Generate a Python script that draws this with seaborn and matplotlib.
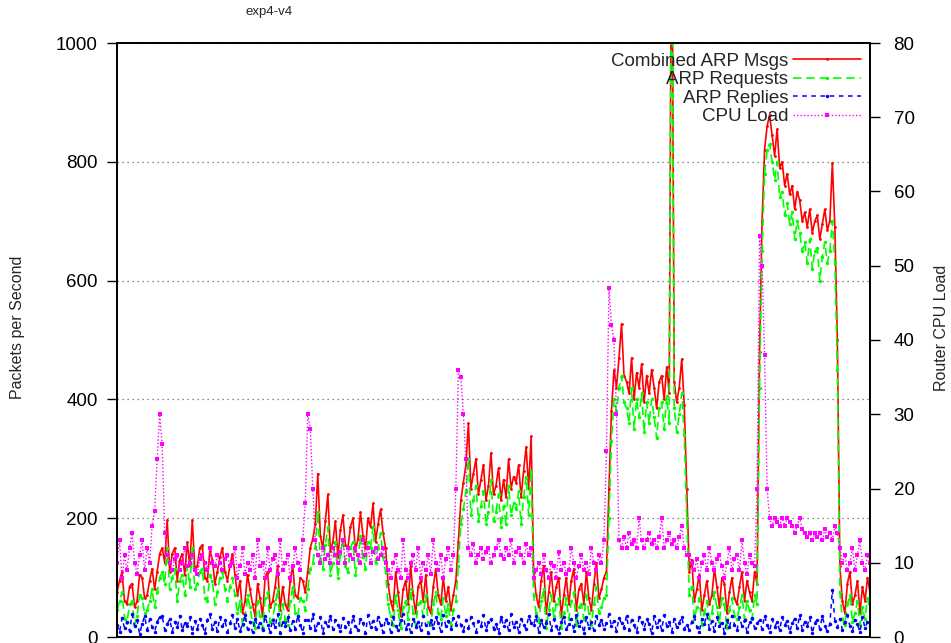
# exp4-v4 : ARP traffic vs router CPU load (gnuplot style look)

import pandas as pd
import matplotlib
matplotlib.use("Agg")
import matplotlib.pyplot as plt
import seaborn as sns

sns.set_style("ticks")
plt.rcParams['font.family'] = ['Liberation Sans', 'DejaVu Sans']

# ==========================
# Data (one sample every couple of seconds)
# ==========================

combined = [
    75, 95, 110, 60, 55, 85, 90, 50, 60, 105, 100, 65, 70, 95, 115, 80, 110, 140,
    150, 125, 197, 110, 140, 150, 95, 130, 140, 105, 160, 120, 197, 115, 120, 150,
    155, 100, 95, 145, 130, 90, 110, 135, 150, 110, 95, 120, 140, 105,
    70, 95, 40, 60, 105, 80, 55, 35, 90, 65, 35, 100, 110, 50, 60, 85, 120, 45,
    85, 55, 45, 95, 120, 70, 65, 100, 95, 75,
    110, 150, 165, 190, 275, 170, 150, 195, 240, 145, 160, 195, 135, 180, 205, 155,
    150, 185, 200, 145, 165, 210, 170, 150, 200, 185, 225, 160, 190, 215, 175, 150,
    90, 60, 45, 110, 75, 35, 80, 95, 55, 120, 70, 40, 85, 95, 60, 105, 50, 40,
    85, 115, 70, 55, 100, 60, 85, 45, 70, 95,
    160, 230, 260, 290, 360, 250, 275, 300, 240, 265, 290, 230, 255, 310, 240,
    255, 285, 230, 265, 235, 300, 250, 270, 260, 290, 235, 280, 320, 250, 338,
    110, 70, 50, 95, 120, 40, 75, 110, 60, 85, 100, 35, 70, 100, 55, 95, 115, 45,
    80, 90, 55, 110, 65, 45, 90, 125, 65, 80, 100, 110,
    250, 380, 450, 420, 470, 527, 440, 430, 410, 470, 400, 445, 420, 460, 395, 440,
    410, 450, 420, 385, 430, 440, 400, 455, 410, 1300, 430, 395, 420, 468, 390, 250,
    110, 130, 60, 80, 105, 45, 70, 95, 55, 70, 115, 85, 50, 100, 90, 40, 75, 100,
    65, 55, 85, 110, 60, 95, 75, 60, 110, 90,
    480, 700, 820, 860, 879, 845, 810, 855, 790, 800, 760, 780, 745, 760, 720, 750,
    735, 700, 715, 690, 720, 680, 700, 710, 670, 695, 720, 685, 700, 798, 690, 500,
    120, 60, 40, 90, 110, 55, 70, 95, 40, 85, 60, 100, 75,
]

requests = [
    45, 60, 75, 30, 25, 55, 60, 20, 35, 70, 65, 40, 45, 60, 80, 50, 75, 100,
    110, 90, 150, 80, 100, 115, 60, 95, 105, 70, 120, 85, 150, 80, 90, 110,
    115, 65, 60, 105, 95, 55, 75, 100, 110, 80, 60, 85, 100, 70,
    40, 60, 20, 30, 70, 50, 25, 15, 60, 35, 15, 65, 75, 25, 30, 55, 80, 20,
    55, 30, 20, 60, 85, 40, 35, 65, 60, 45,
    80, 115, 125, 150, 210, 130, 115, 155, 185, 105, 125, 160, 100, 140, 165, 120,
    110, 150, 160, 105, 130, 170, 135, 115, 160, 150, 185, 125, 150, 175, 135, 110,
    55, 35, 20, 70, 45, 15, 50, 60, 30, 80, 40, 20, 55, 60, 35, 70, 25, 20,
    55, 75, 40, 30, 65, 35, 55, 20, 45, 60,
    120, 190, 215, 245, 300, 205, 230, 255, 195, 220, 245, 190, 210, 265, 195,
    210, 240, 185, 220, 190, 255, 205, 225, 215, 245, 190, 235, 270, 205, 280,
    70, 40, 25, 60, 80, 15, 45, 70, 35, 55, 65, 15, 40, 65, 30, 60, 75, 20,
    50, 55, 30, 70, 40, 20, 55, 85, 40, 50, 65, 70,
    200, 330, 400, 380, 420, 440, 395, 385, 360, 420, 350, 400, 370, 410, 345, 395,
    360, 400, 370, 335, 385, 395, 350, 405, 360, 1300, 385, 345, 375, 410, 340, 200,
    70, 85, 30, 50, 65, 20, 40, 60, 30, 40, 75, 50, 25, 65, 55, 15, 45, 65,
    35, 30, 50, 70, 30, 60, 45, 30, 70, 55,
    420, 650, 780, 820, 830, 800, 770, 800, 740, 750, 710, 730, 695, 715, 670, 700,
    680, 650, 665, 630, 670, 620, 650, 655, 600, 640, 665, 630, 650, 700, 630, 450,
    75, 30, 20, 55, 70, 25, 40, 60, 20, 50, 30, 65, 45,
]

replies = [
    20, 8, 32, 15, 25, 10, 38, 18, 28, 5, 22, 35, 12, 30, 17, 9, 26, 33,
    35, 12, 22, 30, 9, 26, 16, 36, 11, 24, 19, 33, 7, 27, 14, 31, 21, 6, 29, 38,
    13, 25, 10, 34, 18, 28, 8, 23, 37, 15,
    30, 10, 22, 37, 13, 26, 8, 31, 17, 24, 12, 35, 20, 9, 28, 16, 39, 6, 25, 19,
    33, 11, 27, 14, 36, 21, 7, 29,
    28, 15, 38, 11, 23, 33, 7, 25, 18, 36, 13, 29, 21, 10, 32, 16, 26, 9, 35, 19,
    12, 30, 24, 6, 37, 17, 27, 14, 34, 20, 8, 31,
    24, 9, 34, 19, 12, 28, 38, 14, 22, 8, 31, 17, 26, 11, 36, 20, 6, 29, 15, 33,
    23, 10, 37, 18, 27, 13, 32, 21,
    36, 20, 10, 29, 15, 33, 23, 8, 27, 18, 37, 12, 25, 30, 14, 22, 6, 34, 19, 28,
    11, 38, 16, 26, 9, 31, 21, 13, 35, 24,
    21, 35, 9, 28, 16, 24, 39, 12, 30, 19, 7, 26, 34, 13, 22, 31, 10, 37, 18, 27,
    6, 33, 15, 25, 11, 36, 20, 29, 14, 23,
    38, 18, 27, 10, 32, 23, 15, 36, 11, 29, 20, 8, 33, 25, 14, 30, 22, 6, 35, 17,
    28, 12, 37, 19, 26, 9, 31, 16, 24, 34, 13, 21,
    12, 26, 35, 17, 9, 31, 22, 38, 14, 27, 10, 33, 19, 24, 7, 29, 16, 36, 21, 11,
    34, 18, 28, 8, 25, 32, 15, 23,
    28, 13, 36, 21, 9, 30, 17, 25, 11, 34, 20, 27, 8, 23, 31, 15, 37, 12, 26, 19,
    33, 6, 24, 29, 14, 35, 18, 10, 22, 79, 27, 16,
    31, 12, 26, 37, 18, 10, 29, 22, 8, 34, 15, 25, 19,
]

cpu_load = [
    10, 13, 8, 11, 9, 12, 14, 10, 8.5, 11, 13, 9, 12, 10, 15, 17, 24, 30,
    26, 14, 11, 10, 9, 10.5, 11, 9, 10, 12, 9.5, 10, 11, 9, 8.5, 10.5, 11, 10,
    9, 12, 10, 9.5, 11, 10, 9, 10.5, 11, 9.5, 10, 12,
    8, 9.5, 12, 8.5, 10, 9, 11, 8, 13, 9.5, 10, 8, 12, 9, 10.5, 11, 8.5, 13,
    9, 10, 11, 8, 9.5, 12, 10, 9, 13, 18,
    30, 28, 20, 13, 11, 10, 12, 10.5, 11, 10, 12, 11, 10, 11.5, 13, 10,
    12, 11, 10.5, 12, 11, 10, 13, 11, 12, 10, 11.5, 12, 10.5, 11, 12, 10,
    9, 8, 10, 11, 9, 8, 13, 9, 8, 10, 11, 9, 12, 8, 10, 9, 11, 8.5,
    13, 10, 9, 11, 8, 10.5, 12, 9, 11, 20,
    36, 35, 30, 24, 12, 11, 12.5, 10, 11, 12, 10.5, 11.5, 12, 10, 11,
    12, 13, 11, 10.5, 12, 11, 13, 10, 11.5, 12, 11, 10, 12.5, 11, 12,
    8, 9, 10, 8.5, 11, 9, 8, 10, 9.5, 8, 11.5, 9, 10, 8.5, 9, 12, 10, 8,
    9.5, 11, 9, 10, 8.5, 12, 10, 9, 11, 10, 13, 25,
    47, 42, 40, 30, 13, 12, 13.5, 12, 14, 12.5, 13, 12, 16, 13, 12, 13,
    14, 12.5, 13, 12, 13.5, 16, 12, 13, 14, 12.5, 13, 12, 13.5, 15, 12, 11,
    11, 10, 9, 10.5, 8, 10, 11, 9, 12, 10, 9, 10.5, 11, 9.5, 8, 10, 12, 9,
    10.5, 11, 9, 13, 10, 8.5, 11, 10, 9.5, 20,
    54, 50, 38, 20, 16, 15, 16, 15.5, 15, 16, 15, 16, 15.5, 15, 14, 15,
    16, 14.5, 14, 13.5, 14, 13, 14, 13.5, 14, 13, 14.5, 13.5, 14, 13, 15, 14,
    12, 10, 11, 9, 10, 12, 9, 11, 13, 10, 9, 11, 10,
]

sample = list(range(len(combined)))

left_ticks = [0, 200, 400, 600, 800, 1000]
right_ticks = [0, 10, 20, 30, 40, 50, 60, 70, 80]

df = pd.DataFrame({
    "t": sample,
    "Combined ARP Msgs": combined,
    "ARP Requests": requests,
    "ARP Replies": replies,
    "CPU Load": cpu_load,
})

# ==========================
# Plot
# ==========================

fig = plt.figure(figsize=(9.51, 6.43), dpi=100)
ax = fig.add_axes([117 / 951, 6 / 643, 753 / 951, 594 / 643])
ax2 = ax.twinx()

sns.lineplot(data=df, x="t", y="Combined ARP Msgs", ax=ax, color="#ff0000",
             lw=1.2, marker="o", markersize=2, markeredgewidth=0,
             label="Combined ARP Msgs")
sns.lineplot(data=df, x="t", y="ARP Requests", ax=ax, color="#00ff00",
             lw=1.2, linestyle=(0, (5, 3)), marker="o", markersize=2.5,
             markeredgewidth=0, label="ARP Requests")
sns.lineplot(data=df, x="t", y="ARP Replies", ax=ax, color="#0000ff",
             lw=1.1, linestyle=(0, (3, 3)), marker="o", markersize=2.5,
             markeredgewidth=0, label="ARP Replies")
sns.lineplot(data=df, x="t", y="CPU Load", ax=ax2, color="#ff00ff",
             lw=1, linestyle=(0, (1, 1.5)), marker="s", markersize=3.5,
             markeredgewidth=0, label="CPU Load")

ax.set_xlim(0, len(sample) - 1)
ax.set_ylim(0, 1000)
ax2.set_ylim(0, 80)
ax.set_yticks(left_ticks)
ax2.set_yticks(right_ticks)

ax.yaxis.grid(True, linestyle=(0, (1, 3)), color="#666666", lw=0.9)
ax.set_axisbelow(True)

ax.set_xlabel("")
ax.set_ylabel("")
ax2.set_ylabel("")
ax.tick_params(axis="x", bottom=False, labelbottom=False)
ax.tick_params(axis="y", direction="out", length=7, width=1, pad=7,
               labelsize=13.5, colors="black")
ax2.tick_params(axis="y", direction="out", length=7, width=1, pad=10,
                labelsize=13.5, colors="black")

for a in (ax, ax2):
    for s in a.spines.values():
        s.set_visible(True)
        s.set_color("black")
        s.set_linewidth(1.3)

# legend in the gnuplot way: text on the left, samples on the right
h1, l1 = ax.get_legend_handles_labels()
h2, l2 = ax2.get_legend_handles_labels()
if ax.get_legend() is not None:
    ax.get_legend().remove()
if ax2.get_legend() is not None:
    ax2.get_legend().remove()
leg = ax2.legend(h1 + h2, l1 + l2, loc="upper right", bbox_to_anchor=(1.0, 1.0),
                 frameon=False, markerfirst=False, fontsize=13.5,
                 handlelength=3.6, handletextpad=0.25, labelspacing=0.08,
                 borderaxespad=0.2, borderpad=0.3)

fig.text(269 / 951, 1 - 12 / 643, "exp4-v4", ha="center", va="center", fontsize=9.5)
fig.text(18 / 951, 1 - 327 / 643, "Packets per Second", ha="center", va="center",
         rotation=90, fontsize=11.5)
fig.text(941 / 951, 1 - 328 / 643, "Router CPU Load", ha="center", va="center",
         rotation=90, fontsize=11.5)

fig.savefig("out.png", dpi=100)
